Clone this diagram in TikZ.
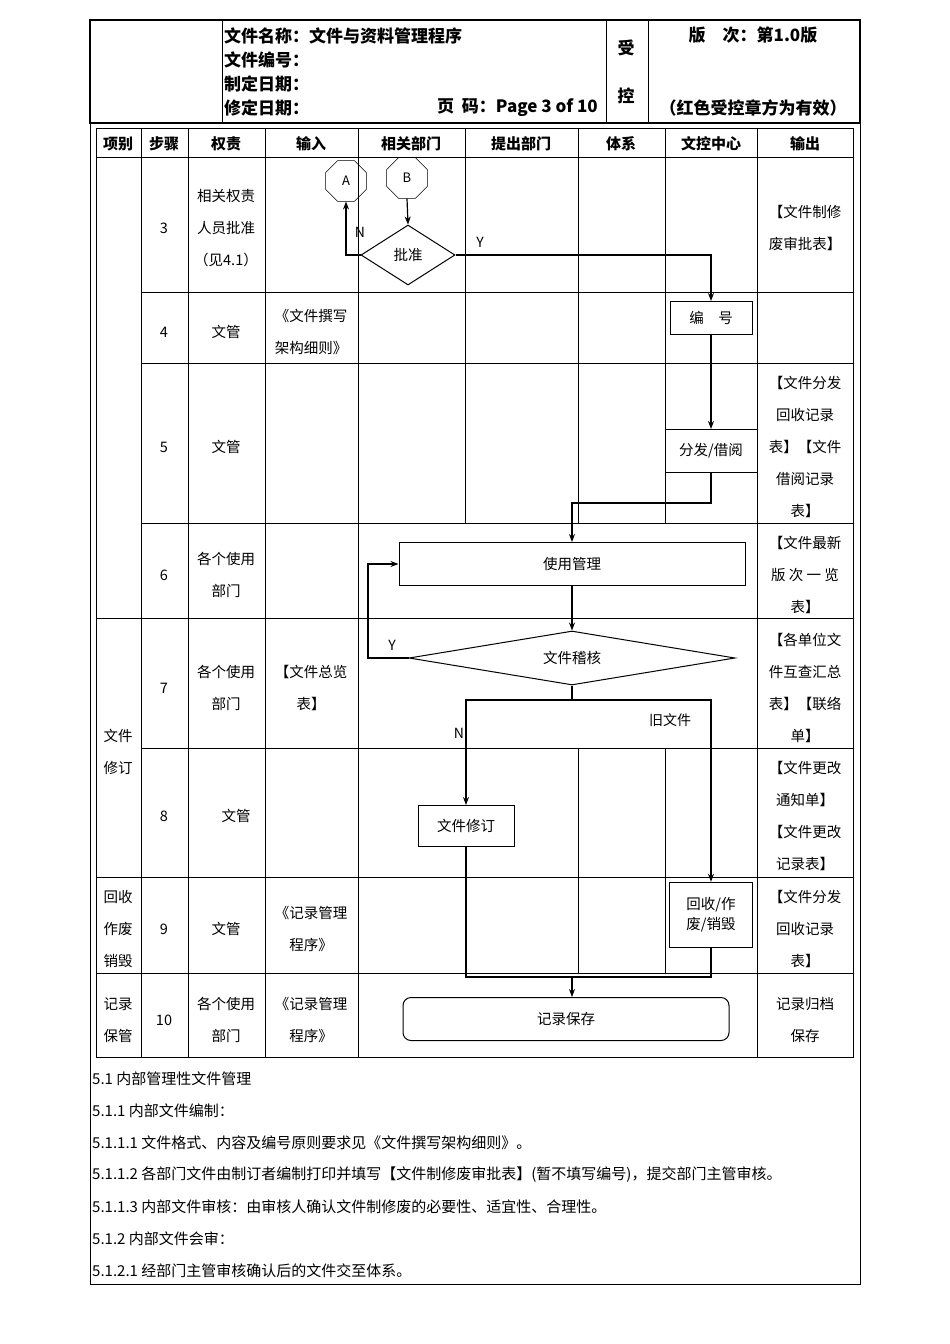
\documentclass[tikz,border=0pt]{standalone}
\usepackage{fontspec}
\setmainfont{Noto Sans CJK SC}
\usetikzlibrary{shapes.geometric,arrows.meta}
\begin{document}
\begin{tikzpicture}[x=1pt,y=-1pt,
  grid/.style={line width=0.8pt},
  flow/.style={line width=1.2pt},
  arr/.style={flow,-{Stealth[length=8pt,width=6pt]}},
  cell/.style={align=center,font=\fontsize{14.5}{32}\selectfont,inner sep=0pt},
  hd/.style={font=\fontsize{15}{18}\selectfont\bfseries,inner sep=0pt},
  hdb/.style={font=\fontsize{17}{20}\selectfont\bfseries,inner sep=0pt},
  pbox/.style={draw,line width=1pt,font=\fontsize{14.5}{20}\selectfont,align=center,inner sep=0pt},
  oct/.style={draw,regular polygon,regular polygon sides=8,minimum size=44pt,inner sep=0pt,font=\fontsize{13}{13}\selectfont},
  lbl/.style={font=\fontsize{14}{14}\selectfont,inner sep=0pt},
  para/.style={anchor=west,font=\fontsize{15}{16}\selectfont,inner sep=0pt}]
\useasboundingbox (0,0) rectangle (950,1344);
% outer frame
\draw[grid,line width=1pt] (90,20) rectangle (860,1284);
% header
\draw[line width=1.5pt] (90,20) rectangle (860,123);
\draw[grid] (222,20)--(222,123) (606,20)--(606,123) (648,20)--(648,123);
\node[hdb,anchor=west] (h1) at (224,36) {文件名称：文件与资料管理程序};
\node[hdb,anchor=west] (h2) at (224,60) {文件编号：};
\node[hdb,anchor=west] (h3) at (224,84) {制定日期：};
\node[hdb,anchor=west] (h4) at (224,108) {修定日期：};
\node[hdb,anchor=east] (h5) at (598,108) {页\ \ 码：Page 3 of 10};
\node[hdb] (h6) at (626,48) {受};
\node[hdb] (h7) at (626,96) {控};
\node[hdb] (h8) at (753,35) {版\quad 次：第1.0版};
\node[hdb] (h9) at (753,108) {（红色受控章方为有效）};
% table grid
\draw[grid] (96,128) rectangle (853,1057);
\foreach \x in {141,188,265,358,757} \draw[grid] (\x,128)--(\x,1057);
\draw[grid] (465,128)--(465,523);
\foreach \x in {578,665} {\draw[grid] (\x,128)--(\x,523); \draw[grid] (\x,748)--(\x,973);}
\foreach \y in {157,618,877,973} \draw[grid] (96,\y)--(853,\y);
\foreach \y in {292,363,523,748} \draw[grid] (141,\y)--(853,\y);
% header row
\foreach \x/\t in {118/项别,164/步骤,226/权责,311/输入,411/相关部门,521/提出部门,621/体系,711/文控中心,805/输出}
  \node[hd] at (\x,144) {\t};
% left column
\node[cell] (l1) at (118,752) {文件\\修订};
\node[cell] (l2) at (118,929) {回收\\作废\\销毁};
\node[cell] (l3) at (118,1020) {记录\\保管};
% steps
\foreach \y/\t in {228/3,332/4,447/5,575/6,688/7,816/8,929/9,1020/10}
  \node[cell] at (164,\y) {\t};
% responsibilities
\node[cell] (r3) at (226,228) {相关权责\\人员批准\\（见4.1）};
\node[cell] (r4) at (226,332) {文管};
\node[cell] (r5) at (226,447) {文管};
\node[cell] (r6) at (226,575) {各个使用\\部门};
\node[cell] (r7) at (226,688) {各个使用\\部门};
\node[cell] (r8) at (236,816) {文管};
\node[cell] (r9) at (226,929) {文管};
\node[cell] (r10) at (226,1020) {各个使用\\部门};
% inputs
\node[cell] (i4) at (311,332) {《文件撰写\\架构细则》};
\node[cell] (i7) at (311,688) {【文件总览\\表】};
\node[cell] (i9) at (311,929) {《记录管理\\程序》};
\node[cell] (i10) at (311,1020) {《记录管理\\程序》};
% outputs
\node[cell] (o3) at (805,228) {【文件制修\\废审批表】};
\node[cell] (o5) at (805,447) {【文件分发\\回收记录\\表】【文件\\借阅记录\\表】};
\node[cell] (o6) at (805,575) {【文件最新\\版\ 次\ 一\ 览\\表】};
\node[cell] (o7) at (805,688) {【各单位文\\件互查汇总\\表】【联络\\单】};
\node[cell] (o8) at (805,816) {【文件更改\\通知单】\\【文件更改\\记录表】};
\node[cell] (o9) at (805,929) {【文件分发\\回收记录\\表】};
\node[cell] (o10) at (805,1020) {记录归档\\保存};
% flow nodes
\node[oct] (A) at (346,181) {A};
\node[oct] (B) at (407,178) {B};
\node[pbox,diamond,aspect=1.6,minimum width=94pt,minimum height=60pt] (pz) at (408,255) {批准};
\node[pbox,minimum width=82pt,minimum height=33pt] (bh) at (711,318) {编\quad 号};
\node[pbox,minimum width=92pt,minimum height=43pt] (ff) at (711,451) {分发/借阅};
\node[pbox,minimum width=346pt,minimum height=43pt] (sy) at (572,564) {使用管理};
\node[pbox,diamond,aspect=6,minimum width=326pt,minimum height=54pt] (jh) at (572,658) {文件稽核};
\node[pbox,minimum width=96pt,minimum height=41pt] (xd) at (466,826) {文件修订};
\node[pbox,minimum width=83pt,minimum height=65pt,line width=1.4pt] (hs) at (711,915) {回收/作\\废/销毁};
\node[pbox,rounded corners=8pt,minimum width=326pt,minimum height=43pt] (jl) at (566,1019) {记录保存};
\coordinate (m1) at (572,700);
\coordinate (m2) at (572,977);
\coordinate (lp) at (368,658);
% connectors
\draw[arr] (pz.west) -| (A.south);
\draw[arr] (B.south) -- (pz.north);
\draw[arr] (pz.east) -| (bh.north);
\draw[arr] (bh.south) -- (ff.north);
\draw[arr] (ff.south) -- ++(0,30) -| (sy.north);
\draw[arr] (sy.south) -- (jh.north);
\draw[arr] (jh.west) -- (lp) |- (sy.west);
\draw[flow] (jh.south) -- (m1);
\draw[arr] (m1) -| (xd.north);
\draw[arr] (m1) -| (hs.north);
\draw[flow] (xd.south) |- (hs.south |- m2) -- (hs.south);
\draw[arr] (m2) -- (m2 |- jl.north);
% labels
\node[lbl] (lN1) at (360,232) {N};
\node[lbl] (lY1) at (480,242) {Y};
\node[lbl] (lY2) at (392,645) {Y};
\node[lbl] (lN2) at (459,733) {N};
\node[lbl] (lold) at (670,720) {旧文件};
% paragraphs
\node[para] at (92,1079) {5.1 内部管理性文件管理};
\node[para] at (92,1111) {5.1.1 内部文件编制：};
\node[para] at (92,1143) {5.1.1.1 文件格式、内容及编号原则要求见《文件撰写架构细则》。};
\node[para] at (92,1175) {5.1.1.2 各部门文件由制订者编制打印并填写【文件制修废审批表】(暂不填写编号)，提交部门主管审核。};
\node[para] at (92,1207) {5.1.1.3 内部文件审核：由审核人确认文件制修废的必要性、适宜性、合理性。};
\node[para] at (92,1239) {5.1.2 内部文件会审：};
\node[para] at (92,1271) {5.1.2.1 经部门主管审核确认后的文件交至体系。};
\end{tikzpicture}
\end{document}
